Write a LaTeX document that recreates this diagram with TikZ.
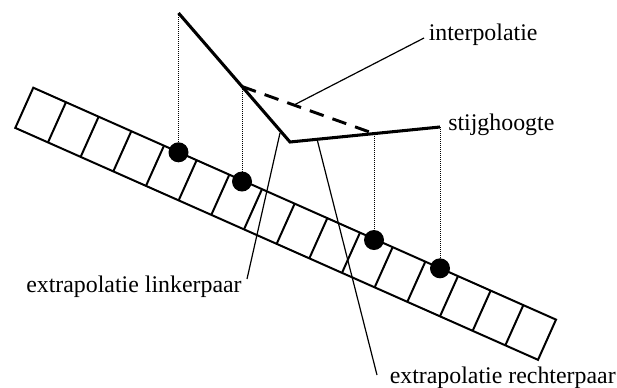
\documentclass[tikz,border=0pt]{standalone}
\usepackage{fontspec}
\setmainfont{Liberation Serif}
\usetikzlibrary{calc}
\begin{document}
\begin{tikzpicture}[x=0.75pt,y=-0.75pt,
  stripline/.style={line width=1.5pt, line join=miter},
  curveline/.style={line width=2.3pt, line join=miter},
  interpline/.style={line width=2.2pt, dash pattern=on 11pt off 7pt},
  leader/.style={line width=0.9pt},
  dropline/.style={line width=0.6pt, dash pattern=on 0.75pt off 0.75pt},
  dot/.style={circle, fill=black, minimum size=15pt, inner sep=0pt},
  lbl/.style={inner sep=0pt, anchor=base west, font=\fontsize{17.9pt}{20pt}\selectfont}]
\useasboundingbox (0,0) rectangle (617,387);
% strip
\coordinate (TL) at (33.3,87.7);
\coordinate (TR) at (556,319.6);
\coordinate (BL) at (15.3,127.9);
\coordinate (BR) at (538,359.8);
\draw[stripline] (TL) -- (TR) -- (BR) -- (BL) -- cycle;
\foreach \i in {1,...,15} \draw[stripline] ($(TL)!\i/16!(TR)$) -- ($(BL)!\i/16!(BR)$);
% curve points
\coordinate (P1) at (178.5,13);
\coordinate (C) at (290,142);
\coordinate (P4) at (440,127);
\coordinate (P2) at (242,86.5);
\coordinate (Q1) at (374,133.6);
% dots
\coordinate (d1c) at (178.5,152.3);
\coordinate (d2c) at (242,181.5);
\coordinate (d3c) at (374,240);
\coordinate (d4c) at (440,268.3);
\draw[dropline] (P1) -- (d1c);
\draw[dropline] (P2) -- (d2c);
\draw[dropline] (Q1) -- (d3c);
\draw[dropline] (P4) -- (d4c);
\node[dot] (d1) at (d1c) {};
\node[dot] (d2) at (d2c) {};
\node[dot] (d3) at (d3c) {};
\node[dot] (d4) at (d4c) {};
% curve
\draw[curveline] (P1) -- (C) -- (P4);
\draw[interpline] (P2) -- (Q1);
% labels
\node[lbl] (interp) at (428.5,40) {interpolatie};
\node[lbl] (stijg) at (448,130) {stijghoogte};
\node[lbl] (links) at (26,292.7) {extrapolatie linkerpaar};
\node[lbl] (rechts) at (389.5,383.3) {extrapolatie rechterpaar};
% leaders
\coordinate (L1a) at (294,105);
\coordinate (L1b) at (424,38);
\coordinate (L2a) at (280,133);
\coordinate (L2b) at (247,279);
\coordinate (L3a) at (317,139);
\coordinate (L3b) at (377,375);
\draw[leader] (L1a) -- (L1b);
\draw[leader] (L2a) -- (L2b);
\draw[leader] (L3a) -- (L3b);
\end{tikzpicture}
\end{document}
